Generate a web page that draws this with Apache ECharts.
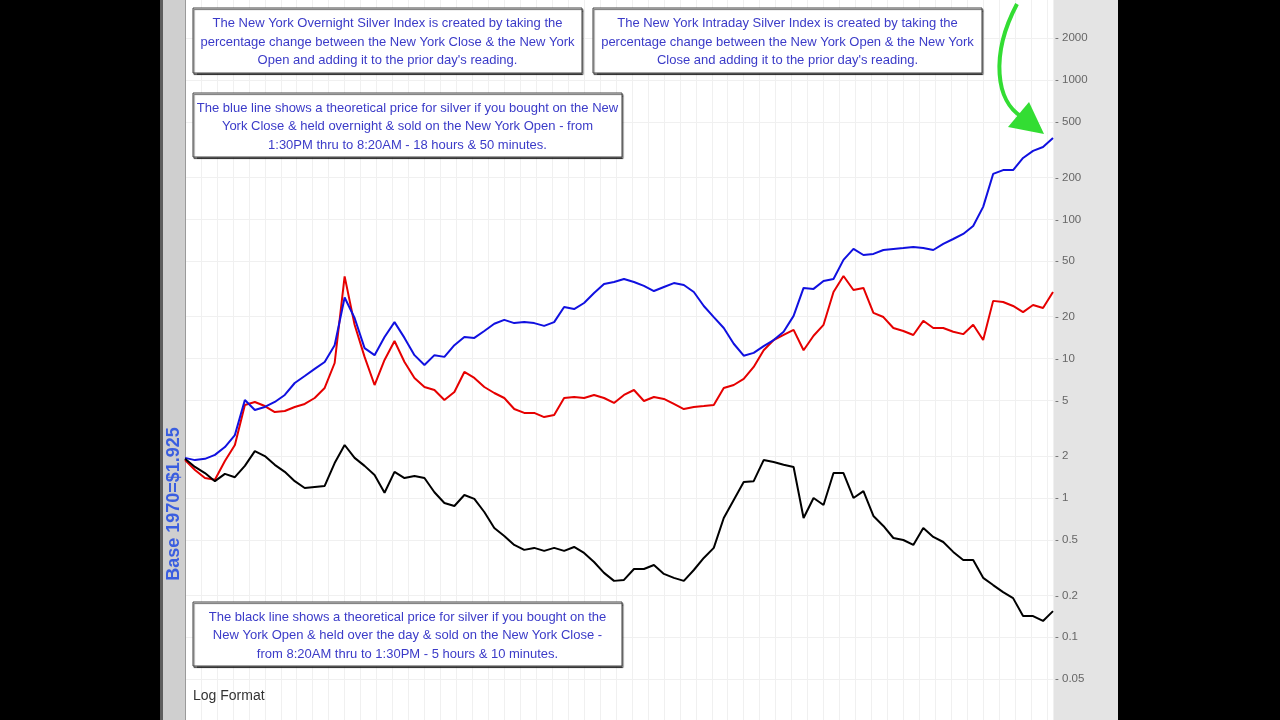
<!DOCTYPE html>
<html><head><meta charset="utf-8">
<script src="https://cdn.jsdelivr.net/npm/echarts@6/dist/echarts.min.js"></script>
<style>
html,body{margin:0;padding:0;background:#000;}
#c{width:1280px;height:720px;background:linear-gradient(to right,#000 0px,#000 160px,#5e5e5e 160px,#5e5e5e 163px,#cfcfcf 163px,#cfcfcf 185px,#fff 185px,#fff 1053px,#e4e4e4 1053px,#e4e4e4 1118px,#000 1118px,#000 1280px);}
</style>
</head><body><div id="c"></div>
<script>
// sample positions along the time axis (equally spaced observations, 1970 onward)
const samplePos = [0,10,20,30,40,50,60,70,80,90,100,110,120,130,140,150,160,170,180,190,200,210,220,230,240,250,260,270,280,290,300,310,320,330,340,350,360,370,380,390,400,410,420,430,440,450,460,470,480,490,500,510,520,530,540,550,560,570,580,590,600,610,620,630,640,650,660,670,680,690,700,710,720,730,740,750,760,770,780,790,800,810,820,830,840,850,860,870];
// blue: New York Overnight Silver Index (close -> open)
const overnightIndex = [1.94,1.87,1.91,2.04,2.32,2.83,5.05,4.28,4.50,4.89,5.49,6.69,7.51,8.44,9.47,12.5,27.5,19.6,11.9,10.6,14.3,18.3,14.1,10.6,9.01,10.6,10.3,12.5,14.3,14.1,15.8,17.8,19.0,18.0,18.3,18.0,17.2,18.3,23.5,22.7,25.1,29.6,34.4,35.5,37.3,35.5,33.3,30.6,32.7,34.9,33.8,30.1,23.9,19.9,16.6,12.8,10.5,11.0,12.3,13.6,15.6,20.3,32.2,31.7,36.1,37.3,51.2,61.4,55.5,56.5,60.3,61.4,62.3,63.4,62.3,60.3,66.6,72.3,78.6,89.7,123,212,226,226,276,310,331,384];
// red: silver price
const silverPrice = [1.87,1.59,1.39,1.35,1.84,2.40,4.65,4.89,4.57,4.14,4.21,4.50,4.73,5.22,6.16,9.31,39.0,17.5,10.3,6.47,9.79,13.4,9.47,7.27,6.26,5.96,5.05,5.77,8.03,7.27,6.26,5.67,5.22,4.35,4.08,4.08,3.81,3.94,5.22,5.31,5.22,5.49,5.22,4.81,5.49,5.96,4.97,5.31,5.14,4.73,4.35,4.50,4.57,4.65,6.16,6.47,7.15,8.72,11.5,13.6,14.8,16.1,11.5,14.6,17.5,30.1,39.2,31.1,32.2,21.3,19.9,16.6,15.8,14.8,18.7,16.6,16.6,15.6,15.0,17.5,13.6,26.0,25.5,23.9,21.6,24.3,23.1,30.1];
// black: New York Intraday Silver Index (open -> close)
const intradayIndex = [1.91,1.67,1.51,1.32,1.49,1.41,1.70,2.17,2.00,1.73,1.54,1.32,1.18,1.20,1.22,1.78,2.40,1.94,1.70,1.46,1.09,1.54,1.39,1.44,1.39,1.10,0.921,0.876,1.05,0.984,0.793,0.609,0.534,0.460,0.424,0.438,0.417,0.438,0.417,0.445,0.403,0.347,0.290,0.254,0.258,0.309,0.309,0.330,0.285,0.267,0.254,0.304,0.371,0.438,0.718,0.968,1.30,1.32,1.87,1.81,1.73,1.67,0.718,1.00,0.891,1.51,1.51,1.00,1.12,0.743,0.630,0.516,0.499,0.460,0.609,0.525,0.483,0.410,0.359,0.359,0.267,0.237,0.211,0.191,0.142,0.142,0.131,0.154];
// right axis tick labels
const tickValues = [2000,1000,500,200,100,50,20,10,5,2,1,0.5,0.2,0.1,0.05];

const toLog = arr => samplePos.map((x,i)=>[x, Math.log10(arr[i])]);
const logTicks = tickValues.map(v=>Math.log10(v));
const FONT = '"Liberation Sans", Arial, sans-serif';
const TXT = '#3b3bc8';

function box(x,y,w,h,lines){
  return [
    {type:'rect', z:100, zlevel:1, shape:{x:x,y:y,width:w,height:h},
     style:{fill:'#fff',stroke:'#444',lineWidth:1,shadowColor:'rgba(0,0,0,0.6)',shadowOffsetX:1,shadowOffsetY:1.5,shadowBlur:1}},
    {type:'text', z:101, zlevel:1, x:x+w/2, y:y+h/2+1.5,
     style:{text:lines.join('\n'),fill:TXT,font:'13px '+FONT,align:'center',verticalAlign:'middle',lineHeight:18.5}}
  ];
}

const chart = echarts.init(document.getElementById('c'));
chart.setOption({
  backgroundColor:'transparent',
  animation:false,
  grid:{left:185,right:227,top:0,bottom:0,show:true,backgroundColor:'#fff',borderWidth:0},
  xAxis:{type:'value',min:0,max:870,interval:16,
    axisLine:{show:false},axisTick:{show:false},axisLabel:{show:false},
    splitLine:{show:true,lineStyle:{color:'#f0f0f0',width:1}}},
  yAxis:{type:'value',position:'right',min:-1.594,max:3.575,
    axisLine:{show:true,lineStyle:{color:'#9a9a9a',width:1}},
    axisTick:{show:false,customValues:logTicks},
    axisLabel:{show:true,customValues:logTicks,color:'#666',fontSize:11.5,fontFamily:FONT,margin:2,
      formatter:v=>'- '+String(Math.round(Math.pow(10,v)*1000)/1000)},
    splitLine:{show:true,lineStyle:{color:'#f0f0f0',width:1}}},
  series:[
    {type:'line',name:'Silver',data:toLog(silverPrice),showSymbol:false,z:3,
     lineStyle:{color:'#e60000',width:2}},
    {type:'line',name:'Overnight',data:toLog(overnightIndex),showSymbol:false,z:4,
     lineStyle:{color:'#1010e0',width:2}},
    {type:'line',name:'Intraday',data:toLog(intradayIndex),showSymbol:false,z:5,
     lineStyle:{color:'#000',width:2}}
  ],
  graphic:[].concat(
    box(193,8,389,65,['The New York Overnight Silver Index is created by taking the','percentage change between the New York Close & the New York','Open and adding it to the prior day\'s reading.']),
    box(593,8,389,65,['The New York Intraday Silver Index is created by taking the','percentage change between the New York Open & the New York','Close and adding it to the prior day\'s reading.']),
    box(193,93,429,64,['The blue line shows a theoretical price for silver if you bought on the New','York Close & held overnight & sold on the New York Open - from','1:30PM thru to 8:20AM - 18 hours & 50 minutes.']),
    box(193,602,429,64,['The black line shows a theoretical price for silver if you bought on the','New York Open & held over the day & sold on the New York Close -','from 8:20AM thru to 1:30PM - 5 hours & 10 minutes.']),
    [
    {type:'text',x:193,y:696,z:100,zlevel:1,style:{text:'Log Format',fill:'#333',font:'14px '+FONT,verticalAlign:'middle'}},
    {type:'text',x:174,y:504,rotation:Math.PI/2,z:100,zlevel:1,
     style:{text:'Base 1970=$1.925',fill:'#3a5ee0',font:'bold 18px '+FONT,align:'center',verticalAlign:'middle'}},
    {type:'bezierCurve',z:100,zlevel:1,shape:{x1:1017,y1:4,cpx1:990,cpy1:55,cpx2:996,cpy2:102,x2:1022,y2:117},
     style:{stroke:'#33dd33',lineWidth:4,fill:null}},
    {type:'polygon',z:100,zlevel:1,shape:{points:[[1008,127],[1029,102],[1044,134]]},style:{fill:'#33dd33'}}
    ])
});
</script>
</body></html>
